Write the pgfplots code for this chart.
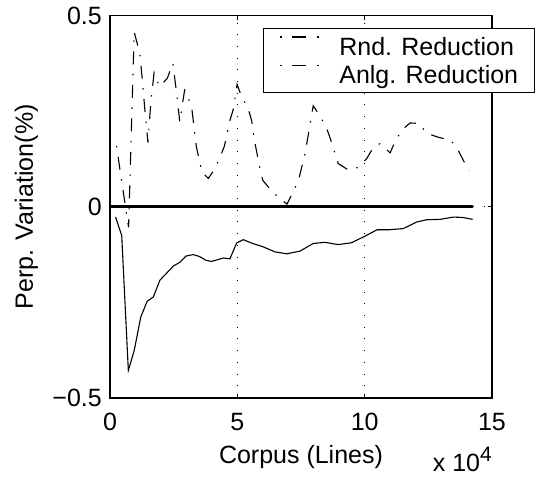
\documentclass[border=0pt]{standalone}
\usepackage{pgfplots}
\pgfplotsset{compat=1.18}
\usepackage{fontspec}
\setmainfont{Liberation Sans}
\newcommand{\fs}{\fontsize{25bp}{30bp}\selectfont}
\begin{document}
\begin{tikzpicture}
\begin{axis}[
  at={(0,0)}, anchor=south west,
  width=382bp, height=382.5bp, scale only axis,
  xmin=0, xmax=15, ymin=-0.5, ymax=0.5,
  xtick={0,5,10,15}, xticklabels={0,5,10,15},
  ytick={-0.5,0,0.5}, yticklabels={−0.5,0,0.5},
  xtick pos=both, ytick pos=both,
  tick align=inside, major tick length=4bp,
  tick style={black, line width=0.9bp},
  axis line style={black, line width=1.1bp},
  grid=major,
  major grid style={black, line width=1bp, dash pattern=on 1bp off 10.7bp},
  every tick label/.append style={font=\fs},
  xticklabel style={anchor=base, inner sep=0pt, yshift=-32bp},
  yticklabel style={anchor=east, inner sep=0pt, xshift=-8bp},
  xlabel={Corpus (Lines)},
  ylabel={Perp. Variation(\%)},
  label style={font=\fs, inner sep=0pt},
  xlabel style={at={(axis description cs:0.5,-0.1717)}, anchor=base},
  ylabel style={at={(axis description cs:-0.2016,0.5)}, anchor=base, rotate=0},
  legend cell align=left,
  legend image code/.code={\draw[#1] (0bp,9.5bp) -- (40bp,9.5bp);},
  legend style={at={(axis description cs:0.4005,0.967)}, anchor=north west,
    draw=black, line width=1.1bp, fill=white, font=\fs,
    inner xsep=16bp, inner ysep=4.2bp, column sep=18.7bp, row sep=1bp,
    nodes={inner sep=0pt, text height=22.8bp, text depth=4.5bp}},
]
\addlegendimage{black, line width=1.1bp, dash pattern=on 1.5bp off 10.5bp on 14bp off 11bp}
\addlegendentry{Rnd. Reduction}
\addlegendimage{black, line width=1.1bp, dash pattern=on 1.5bp off 10.5bp on 14bp off 11bp}
\addlegendentry{Anlg. Reduction}
\addplot[black, line width=1.1bp, dash pattern=on 13bp off 9.5bp on 1.5bp off 9.5bp, dash phase=14bp, forget plot] coordinates {
(0.21,0.181)(0.42,0.084)(0.64,-0.014)(0.73,-0.054)(0.95,0.457)(1.17,0.401)(1.27,0.331)(1.36,0.26)(1.49,0.168)(1.60,0.27)(1.73,0.35)(1.78,0.34)(1.95,0.314)(2.25,0.336)(2.47,0.375)(2.60,0.305)(2.74,0.222)(2.93,0.305)(3.00,0.30)(3.09,0.281)(3.22,0.253)(3.39,0.157)(3.61,0.091)(3.86,0.074)(4.12,0.10)(4.32,0.13)(4.49,0.158)(4.71,0.226)(4.84,0.254)(4.99,0.32)(5.17,0.287)(5.41,0.26)(5.56,0.226)(5.69,0.167)(5.89,0.10)(6.0,0.069)(6.35,0.041)(6.67,0.021)(6.95,0.007)(7.26,0.048)(7.42,0.074)(7.66,0.139)(7.98,0.264)(8.25,0.237)(8.51,0.205)(8.66,0.176)(8.96,0.113)(9.36,0.096)(9.75,0.103)(10.08,0.126)(10.34,0.155)(10.6,0.165)(11.0,0.141)(11.19,0.17)(11.45,0.2)(11.78,0.219)(12.14,0.218)(12.43,0.192)(12.93,0.181)(13.38,0.174)(13.64,0.152)(13.87,0.122)(14.1,0.094)
};
\addplot[black, line width=1.1bp, forget plot] coordinates {
(0.22,-0.027)(0.46,-0.075)(0.72,-0.428)(0.95,-0.376)(1.21,-0.288)(1.46,-0.247)(1.70,-0.236)(1.96,-0.192)(2.49,-0.155)(2.75,-0.145)(2.98,-0.129)(3.27,-0.125)(3.51,-0.130)(3.77,-0.140)(3.99,-0.143)(4.45,-0.134)(4.71,-0.136)(4.97,-0.095)(5.23,-0.086)(5.56,-0.095)(6.02,-0.105)(6.48,-0.118)(6.94,-0.123)(7.46,-0.116)(7.98,-0.096)(8.44,-0.093)(8.96,-0.099)(9.49,-0.094)(10.01,-0.077)(10.49,-0.060)(10.99,-0.060)(11.52,-0.057)(12.04,-0.040)(12.43,-0.034)(12.96,-0.033)(13.48,-0.027)(13.85,-0.028)(14.24,-0.033)
};
\addplot[black, line width=2.6bp, forget plot] coordinates {(0,0)(14.24,0)};
\end{axis}
\node[anchor=base east, inner sep=0pt, font=\fs] at (382bp,-73.7bp) {x 10\raisebox{10bp}{\fontsize{21bp}{25bp}\selectfont 4}};
\pgfresetboundingbox
\path[use as bounding box] (-110bp,-85bp) rectangle (426bp,398bp);
\end{tikzpicture}
\end{document}
